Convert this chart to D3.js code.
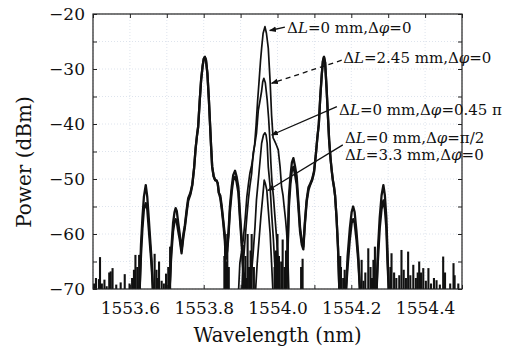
<!DOCTYPE html>
<html>
<head>
<meta charset="utf-8">
<script src="https://cdn.jsdelivr.net/npm/d3@7"></script>
<style>
  body { margin: 0; background: #fff; }
  text { font-family: "DejaVu Serif", serif; fill: #111; }
</style>
</head>
<body>
<div id="chart"></div>
<script>
// axis ticks
const xTicks = [1553.6, 1553.8, 1554.0, 1554.2, 1554.4];
const xMinor = [1553.5, 1553.6, 1553.7, 1553.8, 1553.9, 1554.0, 1554.1, 1554.2, 1554.3, 1554.4, 1554.5];
const yTicks = [-70, -60, -50, -40, -30, -20];
const yMinor = [-70, -65, -60, -55, -50, -45, -40, -35, -30, -25, -20];

// side lobes shared by every trace: [wavelength, upper trace dBm, lower traces dBm]
const leftWing = [
  [1553.500, -71, -71], [1553.626, -71, -71], [1553.630, -62, -64], [1553.634, -57, -59],
  [1553.638, -53.2, -55.5], [1553.643, -51.1, -54.4], [1553.647, -53.2, -55.5], [1553.651, -57, -59],
  [1553.655, -61, -62.5], [1553.659, -65, -66], [1553.663, -71, -71], [1553.707, -71, -71],
  [1553.712, -63, -64], [1553.717, -58, -59.5], [1553.721, -56, -57.8], [1553.724, -55.3, -57.3],
  [1553.727, -55.8, -57.8], [1553.731, -58, -59.5], [1553.735, -60, -61], [1553.740, -63, -63.5],
  [1553.745, -60, -60.5], [1553.749, -58.4, -58.8], [1553.754, -55.5, -56], [1553.758, -53.5, -54],
  [1553.764, -52.5, -52.8], [1553.769, -51, -51.2], [1553.774, -48, -48], [1553.778, -44.5, -44.5],
  [1553.782, -42, -42], [1553.785, -40.5, -40.5], [1553.789, -36, -36], [1553.793, -32, -32],
  [1553.797, -29.5, -29.5], [1553.800, -28.2, -28.2], [1553.803, -27.8, -27.8], [1553.806, -28.3, -28.3],
  [1553.810, -30.8, -30.8], [1553.814, -35.5, -35.5], [1553.817, -39.8, -39.8], [1553.820, -44, -44],
  [1553.823, -47.8, -47.8], [1553.827, -49.5, -49.5], [1553.831, -50.2, -50.2], [1553.835, -50.3, -50.3],
  [1553.838, -50.8, -50.8], [1553.841, -52.5, -52.5], [1553.845, -53, -53.5], [1553.849, -55, -55.5],
  [1553.853, -57.5, -58], [1553.857, -60, -61], [1553.860, -63.5, -64.5], [1553.864, -62, -63],
  [1553.867, -59.9, -60.5], [1553.871, -55, -56], [1553.876, -51.4, -52.3], [1553.880, -49.3, -50.2],
  [1553.885, -48.5, -49.6], [1553.889, -49.5, -50.5], [1553.894, -51.5, -52.5], [1553.898, -56, -57],
  [1553.903, -61, -62], [1553.907, -66, -66.5], [1553.910, -71, -71]
];
const rightWing = [
  [1554.024, -71, -71], [1554.028, -61, -62], [1554.031, -53.2, -55], [1554.035, -49.5, -51],
  [1554.039, -47, -48.5], [1554.043, -46.2, -47.8], [1554.047, -47.5, -49], [1554.052, -49.5, -51],
  [1554.056, -53.5, -54.5], [1554.061, -58.7, -59.5], [1554.066, -61.5, -62], [1554.070, -62.3, -62.8],
  [1554.074, -58, -58.5], [1554.079, -53.8, -54.2], [1554.084, -51.5, -52], [1554.089, -50.8, -51],
  [1554.094, -50, -50.2], [1554.099, -48.6, -48.8], [1554.104, -45.5, -45.5], [1554.108, -42.5, -42.5],
  [1554.112, -40, -40], [1554.116, -35, -35], [1554.120, -31, -31], [1554.123, -28.6, -28.6],
  [1554.126, -27.8, -27.8], [1554.129, -28.8, -28.8], [1554.133, -33.5, -33.5], [1554.137, -39, -39],
  [1554.140, -43, -43], [1554.144, -46.5, -46.5], [1554.147, -48.5, -48.5], [1554.150, -50.2, -50.2],
  [1554.153, -51.4, -51.4], [1554.156, -53, -53], [1554.160, -57, -57], [1554.164, -62.5, -62.5],
  [1554.168, -71, -71], [1554.185, -71, -71], [1554.190, -64, -66], [1554.196, -59, -61],
  [1554.201, -56, -58], [1554.205, -55, -57.3], [1554.209, -56, -58], [1554.214, -59.5, -61],
  [1554.219, -64, -65], [1554.224, -71, -71], [1554.268, -71, -71], [1554.272, -63, -65],
  [1554.277, -57, -59], [1554.282, -53, -55.5], [1554.287, -51.1, -53.9], [1554.291, -53, -55.5],
  [1554.295, -57, -59], [1554.298, -63, -65], [1554.302, -71, -71], [1554.500, -71, -71]
];

// central peak of each trace: [wavelength, dBm]
const peakA = [ // dL=0 mm, dphi=0
  [1553.894, -71], [1553.898, -65.3], [1553.903, -63], [1553.907, -61.1], [1553.912, -57.5],
  [1553.917, -53.2], [1553.921, -51], [1553.925, -49], [1553.930, -47.5], [1553.934, -45.9],
  [1553.938, -43.8], [1553.942, -40.2], [1553.946, -35.9], [1553.950, -32.3], [1553.954, -28.5],
  [1553.957, -26.2], [1553.961, -23.5], [1553.966, -22.3], [1553.970, -23.5], [1553.975, -26.2],
  [1553.980, -32.3], [1553.984, -38.4], [1553.988, -42.5], [1553.993, -43.2], [1553.998, -44],
  [1554.002, -44.7], [1554.007, -47.8], [1554.011, -51.4], [1554.015, -53], [1554.018, -55],
  [1554.022, -57.5], [1554.025, -59.9], [1554.028, -64], [1554.031, -71]
];
const peakB = [ // dL=2.45 mm, dphi=0
  [1553.903, -71], [1553.907, -65.8], [1553.912, -61.1], [1553.917, -56.8], [1553.921, -53.8],
  [1553.925, -51.4], [1553.930, -49], [1553.934, -45.3], [1553.939, -43.5], [1553.943, -41.7],
  [1553.948, -37.5], [1553.953, -35.6], [1553.957, -34], [1553.960, -32.3], [1553.963, -31.7],
  [1553.967, -32.5], [1553.972, -35.6], [1553.976, -39], [1553.979, -42.5], [1553.982, -47],
  [1553.985, -50.5], [1553.989, -53.2], [1553.993, -56.8], [1553.998, -61.1], [1554.002, -65.3],
  [1554.006, -71]
];
const peakC = [ // dL=0 mm, dphi=0.45 pi
  [1553.927, -71], [1553.930, -66.8], [1553.934, -63.5], [1553.939, -58.7], [1553.943, -53.8],
  [1553.948, -50.2], [1553.953, -46.5], [1553.957, -43.5], [1553.962, -42], [1553.966, -41.6],
  [1553.969, -42], [1553.972, -43.5], [1553.975, -47.8], [1553.980, -51.4], [1553.984, -56.2],
  [1553.989, -61.1], [1553.993, -66], [1553.996, -71]
];
const peakD = [ // dL=0 mm, dphi=pi/2  and  dL=3.3 mm, dphi=0
  [1553.940, -71], [1553.945, -65.3], [1553.950, -61.1], [1553.955, -56.8], [1553.960, -53.2],
  [1553.964, -50.2], [1553.967, -50.8], [1553.971, -52], [1553.975, -55.6], [1553.980, -59.9],
  [1553.984, -65.3], [1553.988, -71]
];

// noise spikes along the floor: [wavelength, top dBm]
const noise = [
  [1553.503, -69], [1553.508, -68], [1553.516, -68.2], [1553.519, -64.2], [1553.524, -69],
  [1553.531, -68.3], [1553.537, -69.5], [1553.544, -67], [1553.548, -66.8], [1553.553, -66.2],
  [1553.563, -69.2], [1553.575, -68.8], [1553.586, -67.3], [1553.599, -69], [1553.606, -68],
  [1553.611, -66.5], [1553.615, -63.8], [1553.620, -66], [1553.625, -63.8], [1553.667, -63.6],
  [1553.672, -66.5], [1553.676, -68], [1553.679, -65], [1553.686, -68.5], [1553.692, -69],
  [1553.698, -67.2], [1553.704, -66], [1553.709, -62.3], [1553.856, -64], [1553.858, -62],
  [1553.861, -65], [1553.864, -60], [1553.868, -66], [1553.906, -62], [1553.910, -67],
  [1553.913, -64], [1553.916, -68], [1553.919, -60], [1553.923, -66], [1553.927, -63],
  [1553.930, -60], [1553.936, -66], [1553.992, -66], [1553.996, -63], [1554.000, -60],
  [1554.004, -64], [1554.010, -65], [1554.014, -61], [1554.019, -66], [1554.023, -63],
  [1554.064, -66], [1554.068, -64.5], [1554.170, -64], [1554.172, -66], [1554.178, -68],
  [1554.182, -66.5], [1554.228, -64.7], [1554.233, -68.5], [1554.238, -67], [1554.246, -62.6],
  [1554.252, -66], [1554.256, -68], [1554.260, -64.7], [1554.264, -62.3], [1554.306, -66],
  [1554.309, -63.5], [1554.316, -67], [1554.322, -68], [1554.330, -67.5], [1554.336, -62.9],
  [1554.342, -66.5], [1554.348, -68], [1554.354, -63.2], [1554.360, -67.5], [1554.368, -65.6],
  [1554.375, -68], [1554.380, -67], [1554.384, -65], [1554.389, -67], [1554.395, -66.2],
  [1554.402, -68.5], [1554.409, -66.2], [1554.416, -69], [1554.424, -68], [1554.431, -68.4],
  [1554.440, -69.2], [1554.449, -64.1], [1554.454, -67], [1554.468, -69], [1554.477, -65.3],
  [1554.480, -67.5], [1554.490, -69]
];

const labelA = ["ΔL=0 mm,Δφ=0"];
const labelB = ["ΔL=2.45 mm,Δφ=0"];
const labelC = ["ΔL=0 mm,Δφ=0.45 π"];
const labelD = ["ΔL=0 mm,Δφ=π/2", "ΔL=3.3 mm,Δφ=0"];

const margin = { top: 14, right: 52, bottom: 59, left: 93 };
const width = 514 - margin.left - margin.right;
const height = 348 - margin.top - margin.bottom;

const svg = d3.select("#chart")
  .append("svg")
  .attr("width", 514)
  .attr("height", 348)
  .append("g")
  .attr("transform", "translate(" + margin.left + "," + margin.top + ")");

const x = d3.scaleLinear().domain([1553.5, 1554.5]).range([0, width]);
const y = d3.scaleLinear().domain([-70, -20]).range([height, 0]);

svg.append("defs").append("clipPath").attr("id", "plotClip")
  .append("rect").attr("width", width).attr("height", height);

// grid
const grid = svg.append("g").attr("stroke", "#d6dde8").attr("stroke-dasharray", "1,2").attr("stroke-width", 0.8);
grid.selectAll(".gx").data(xMinor).enter().append("line")
  .attr("x1", d => x(d)).attr("x2", d => x(d)).attr("y1", 0).attr("y2", height);
grid.selectAll(".gy").data(yMinor).enter().append("line")
  .attr("y1", d => y(d)).attr("y2", d => y(d)).attr("x1", 0).attr("x2", width);

// ticks (inward) on all four sides
function tidy(g) {
  g.select(".domain").remove();
  g.selectAll("line").attr("stroke", "#222");
  g.selectAll("text").style("font-family", "DejaVu Serif").style("font-size", "17px").attr("fill", "#111");
}
svg.append("g").attr("transform", "translate(0," + height + ")")
  .call(d3.axisBottom(x).tickValues(xMinor).tickSize(-4).tickPadding(13)
    .tickFormat(d => xTicks.some(t => Math.abs(t - d) < 1e-6) ? d3.format(".1f")(d) : ""))
  .call(tidy);
svg.append("g")
  .call(d3.axisTop(x).tickValues(xMinor).tickSize(-4).tickFormat(""))
  .call(tidy);
svg.append("g")
  .call(d3.axisLeft(y).tickValues(yMinor).tickSize(-4).tickPadding(8)
    .tickFormat(d => yTicks.includes(d) ? d3.format("d")(d) : ""))
  .call(tidy);
svg.append("g").attr("transform", "translate(" + width + ",0)")
  .call(d3.axisRight(y).tickValues(yMinor).tickSize(-4).tickFormat(""))
  .call(tidy);

// traces
const plot = svg.append("g").attr("clip-path", "url(#plotClip)");

const lineUpper = d3.line().x(d => x(d[0])).y(d => y(d[1]));
const lineLower = d3.line().x(d => x(d[0])).y(d => y(d[2]));

plot.selectAll(".spike").data(noise).enter().append("line")
  .attr("x1", d => x(d[0])).attr("x2", d => x(d[0]))
  .attr("y1", y(-70)).attr("y2", d => y(d[1]))
  .attr("stroke", "#111").attr("stroke-width", 2.1);

[leftWing, rightWing].forEach(w => {
  plot.append("path").attr("d", lineLower(w))
    .attr("fill", "none").attr("stroke", "#111").attr("stroke-width", 2.3).attr("stroke-linejoin", "round");
  plot.append("path").attr("d", lineUpper(w))
    .attr("fill", "none").attr("stroke", "#111").attr("stroke-width", 2.3).attr("stroke-linejoin", "round");
});

[peakA, peakB, peakC, peakD].forEach(p => {
  plot.append("path").attr("d", lineUpper(p))
    .attr("fill", "none").attr("stroke", "#111").attr("stroke-width", 1.7).attr("stroke-linejoin", "round");
});

// frame
svg.append("rect").attr("width", width).attr("height", height)
  .attr("fill", "none").attr("stroke", "#222").attr("stroke-width", 1.2);

// axis titles
svg.append("text")
  .attr("x", width / 2).attr("y", 342 - margin.top)
  .attr("text-anchor", "middle").style("font-size", "19.5px")
  .text("Wavelength (nm)");
svg.append("text")
  .attr("transform", "translate(" + (31 - margin.left) + "," + (162 - margin.top) + ") rotate(-90)")
  .attr("text-anchor", "middle").style("font-size", "20px")
  .text("Power (dBm)");

// annotations
svg.append("defs").append("marker")
  .attr("id", "arrow").attr("viewBox", "0 0 10 10").attr("refX", 9).attr("refY", 5)
  .attr("markerWidth", 7).attr("markerHeight", 7).attr("orient", "auto-start-reverse")
  .attr("markerUnits", "userSpaceOnUse")
  .append("path").attr("d", "M0,1 L10,5 L0,9 Z").attr("fill", "#111");

function label(lines, lx, ly, gap) {
  lines.forEach((s, i) => {
    const t = svg.append("text").attr("x", x(lx)).attr("y", y(ly) + i * gap).style("font-size", "15px");
    // italic L and phi
    s.split(/(L|φ)/).forEach(part => {
      if (part === "") return;
      t.append("tspan").style("font-style", part === "L" || part === "φ" ? "italic" : "normal").text(part);
    });
  });
}
function arrow(from, to, dashed) {
  svg.append("line")
    .attr("x1", x(from[0])).attr("y1", y(from[1]))
    .attr("x2", x(to[0])).attr("y2", y(to[1]))
    .attr("stroke", "#111").attr("stroke-width", 1.3)
    .attr("stroke-dasharray", dashed ? "5,4" : null)
    .attr("marker-end", "url(#arrow)");
}

label(labelA, 1554.026, -23.45, 0);
arrow([1554.020, -22.4], [1553.979, -23.0], false);
label(labelB, 1554.178, -28.9, 0);
arrow([1554.174, -28.4], [1553.984, -32.6], true);
label(labelC, 1554.167, -38.4, 0);
arrow([1554.161, -36.85], [1553.984, -42.0], false);
label(labelD, 1554.183, -43.45, 17);
arrow([1554.177, -43.8], [1553.974, -52.1], false);
</script>
</body>
</html>
